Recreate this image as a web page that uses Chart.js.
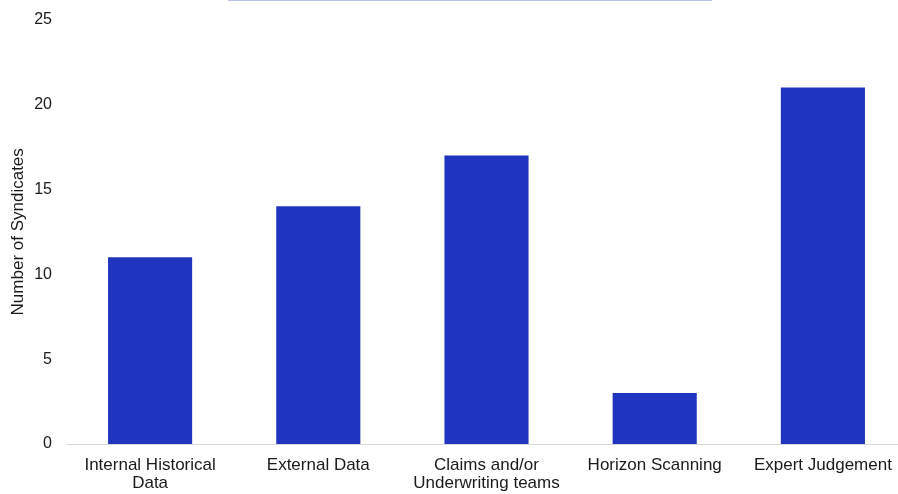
<!DOCTYPE html>
<html>
<head>
<meta charset="utf-8">
<script src="https://cdn.jsdelivr.net/npm/chart.js@4"></script>
<style>
  html, body { margin: 0; padding: 0; background: #fff; overflow: hidden; width: 898px; height: 494px; }
  #wrap { position: relative; top: -4px; width: 907px; height: 498px; }
</style>
</head>
<body>
<div id="wrap"><canvas id="Syndicates"></canvas></div>
<script>
var xCategories = [
  ["Internal Historical", "Data"],
  "External Data",
  ["Claims and/or", "Underwriting teams"],
  "Horizon Scanning",
  "Expert Judgement"
];
var ySyndicates = [11, 14, 17, 3, 21];
var yTicks = [0, 5, 10, 15, 20, 25];

// thin light-blue strip along the top edge
const topStrip = {
  id: "topStrip",
  afterDraw(chart) {
    const ctx = chart.ctx;
    ctx.save();
    ctx.strokeStyle = "#b8c2ee";
    ctx.lineWidth = 1;
    ctx.beginPath();
    ctx.moveTo(228, 4.5);
    ctx.lineTo(712, 4.5);
    ctx.stroke();
    ctx.restore();
  }
};

Chart.defaults.font.family = "'Liberation Sans', Arial, sans-serif";
Chart.defaults.color = "#1a1a1a";

new Chart("Syndicates", {
  type: "bar",
  data: {
    labels: xCategories,
    datasets: [{
      data: ySyndicates,
      backgroundColor: "#1f35bf",
      barPercentage: 0.5,
      categoryPercentage: 1.0
    }]
  },
  options: {
    responsive: true,
    maintainAspectRatio: false,
    animation: false,
    plugins: {
      legend: { display: false },
      tooltip: { enabled: false }
    },
    scales: {
      x: {
        afterFit: function (axis) {
          axis.height = 50;
        },
        grid: { display: false, drawTicks: false },
        border: { display: true, color: "#d9d9d9", width: 1 },
        ticks: {
          font: { size: 17, lineHeight: 1.08 },
          padding: 12,
          maxRotation: 0,
          autoSkip: false
        }
      },
      y: {
        min: 0,
        max: 25,
        afterBuildTicks: function (axis) {
          axis.ticks = yTicks.map(function (v) { return { value: v }; });
        },
        afterFit: function (axis) {
          axis.width = 66;
        },
        grid: { display: false, drawTicks: false },
        border: { display: false },
        ticks: { font: { size: 16 }, padding: 14 },
        title: {
          display: true,
          text: "Number of Syndicates",
          font: { size: 17 },
          padding: { top: 8, bottom: 0 }
        }
      }
    }
  },
  plugins: [topStrip]
});
</script>
</body>
</html>
